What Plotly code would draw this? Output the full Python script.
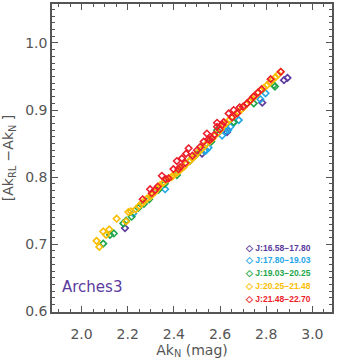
import plotly.graph_objects as go

# J magnitude bins, plotted in this order (red on top)
bin_labels = ["J:16.58\u221217.80", "J:17.80\u221219.03", "J:19.03\u221220.25",
              "J:20.25\u221221.48", "J:21.48\u221222.70"]
bin_colors = ["#5b3a9e", "#1ea6e6", "#1fa64a", "#fbbd00", "#ec1c2a"]

purple_x = [2.188, 2.522, 2.630, 2.783, 2.877, 2.892]
purple_y = [0.724, 0.835, 0.867, 0.911, 0.9445, 0.948]

cyan_x = [2.224, 2.362, 2.532, 2.540, 2.550, 2.609, 2.623, 2.635, 2.645, 2.659,
          2.681, 2.775, 2.797]
cyan_y = [0.746, 0.782, 0.839, 0.840, 0.844, 0.862, 0.868, 0.870, 0.875, 0.881,
          0.885, 0.916, 0.925]

green_x = [2.094, 2.123, 2.140, 2.181, 2.193, 2.217, 2.246, 2.270, 2.293, 2.333,
           2.360, 2.413, 2.427, 2.471, 2.500, 2.562, 2.587, 2.659, 2.746, 2.833,
           2.838]
green_y = [0.701, 0.714, 0.716, 0.731, 0.735, 0.741, 0.754, 0.760, 0.767, 0.781,
           0.790, 0.803, 0.811, 0.825, 0.835, 0.853, 0.870, 0.882, 0.910, 0.937,
           0.935]

yellow_x = [2.065, 2.077, 2.094, 2.106, 2.120, 2.152, 2.193, 2.203, 2.214, 2.235,
            2.250, 2.261, 2.272, 2.283, 2.297, 2.305, 2.318, 2.330, 2.340, 2.352,
            2.365, 2.378, 2.390, 2.398, 2.410, 2.422, 2.433, 2.442, 2.455, 2.468,
            2.480, 2.492, 2.505, 2.517, 2.529, 2.540, 2.552, 2.565, 2.578, 2.590,
            2.603, 2.616, 2.628, 2.640, 2.652, 2.665, 2.678, 2.690, 2.702, 2.715,
            2.728, 2.740, 2.752, 2.765, 2.778, 2.790, 2.804, 2.816, 2.828, 2.840,
            2.852, 2.863]
yellow_y = [0.705, 0.696, 0.719, 0.714, 0.722, 0.738, 0.734, 0.748, 0.749, 0.752,
            0.757, 0.761, 0.764, 0.768, 0.771, 0.774, 0.778, 0.783, 0.788, 0.791,
            0.795, 0.798, 0.800, 0.803, 0.806, 0.809, 0.813, 0.815, 0.820, 0.824,
            0.828, 0.832, 0.837, 0.841, 0.845, 0.849, 0.853, 0.857, 0.862, 0.866,
            0.871, 0.877, 0.881, 0.885, 0.889, 0.893, 0.897, 0.900, 0.904, 0.909,
            0.913, 0.917, 0.921, 0.926, 0.930, 0.933, 0.937, 0.941, 0.945, 0.949,
            0.953, 0.957]

red_x = [2.265, 2.297, 2.304, 2.319, 2.330, 2.348, 2.365, 2.377, 2.398, 2.413,
         2.420, 2.427, 2.435, 2.449, 2.453, 2.464, 2.480, 2.500, 2.514, 2.529,
         2.543, 2.550, 2.555, 2.565, 2.575, 2.587, 2.587, 2.598, 2.610, 2.616,
         2.637, 2.652, 2.659, 2.674, 2.685, 2.700, 2.717, 2.732, 2.745, 2.764,
         2.780, 2.819, 2.863]
red_y = [0.767, 0.782, 0.776, 0.781, 0.786, 0.802, 0.797, 0.798, 0.812, 0.824,
         0.812, 0.815, 0.828, 0.821, 0.835, 0.843, 0.832, 0.840, 0.845, 0.853,
         0.865, 0.857, 0.855, 0.858, 0.863, 0.881, 0.875, 0.871, 0.878, 0.882,
         0.895, 0.889, 0.900, 0.895, 0.904, 0.905, 0.910, 0.915, 0.920, 0.926,
         0.931, 0.946, 0.957]

series = [(purple_x, purple_y), (cyan_x, cyan_y), (green_x, green_y),
          (yellow_x, yellow_y), (red_x, red_y)]

fig = go.Figure()
for (xs, ys), color, label in zip(series, bin_colors, bin_labels):
    fig.add_trace(go.Scatter(
        x=xs, y=ys, mode="markers", name=label, showlegend=False,
        marker=dict(symbol="diamond-open", size=5, color=color,
                    line=dict(width=1.6, color=color)),
    ))

# hand-drawn legend, bottom right
legend_y = [0.209, 0.168, 0.127, 0.085, 0.043]
for label, color, ly in zip(bin_labels, bin_colors, legend_y):
    fig.add_annotation(
        xref="paper", yref="paper", x=0.682, y=ly, xanchor="left", yanchor="middle",
        text="<b>\u25c7 " + label + "</b>", showarrow=False,
        font=dict(size=8.5, color=color, family="Liberation Sans"),
    )

fig.add_annotation(
    xref="paper", yref="paper", x=0.03, y=0.082, xanchor="left", yanchor="middle",
    text="Arches3", showarrow=False,
    font=dict(size=15, color="#5b3a9e", family="DejaVu Sans"),
)

axis_style = dict(
    showline=True, linecolor="#555", linewidth=1.5, mirror="allticks",
    ticks="inside", ticklen=6, tickwidth=1.2, tickcolor="#555",
    showgrid=False, zeroline=False, automargin=False,
    tickfont=dict(size=14, color="#555", family="DejaVu Sans"),
)

fig.update_xaxes(
    range=[1.872, 3.085], dtick=0.2, tick0=2.0, tickformat=".1f",
    ticklabelstandoff=8,
    minor=dict(dtick=0.05, ticks="inside", ticklen=3, tickcolor="#555", showgrid=False),
    title=dict(text="Ak<sub>N</sub> (mag)", standoff=2,
               font=dict(size=14, color="#555", family="DejaVu Sans")),
    **axis_style,
)
fig.update_yaxes(
    range=[0.599, 1.058], dtick=0.1, tick0=0.6, tickformat=".1f",
    minor=dict(dtick=0.01, ticks="inside", ticklen=3, tickcolor="#555", showgrid=False),
    title=dict(text="[Ak<sub>RL</sub> \u2212Ak<sub>N</sub> ]",
               font=dict(size=14, color="#555", family="DejaVu Sans")),
    **axis_style,
)

fig.update_layout(
    width=344, height=360,
    margin=dict(l=52, r=12, t=4, b=48),
    paper_bgcolor="white", plot_bgcolor="white",
    font=dict(family="DejaVu Sans", color="#555"),
    showlegend=False,
)

fig.write_html("out.html", config={"displayModeBar": False},
               post_script="document.body.style.margin='0';")
